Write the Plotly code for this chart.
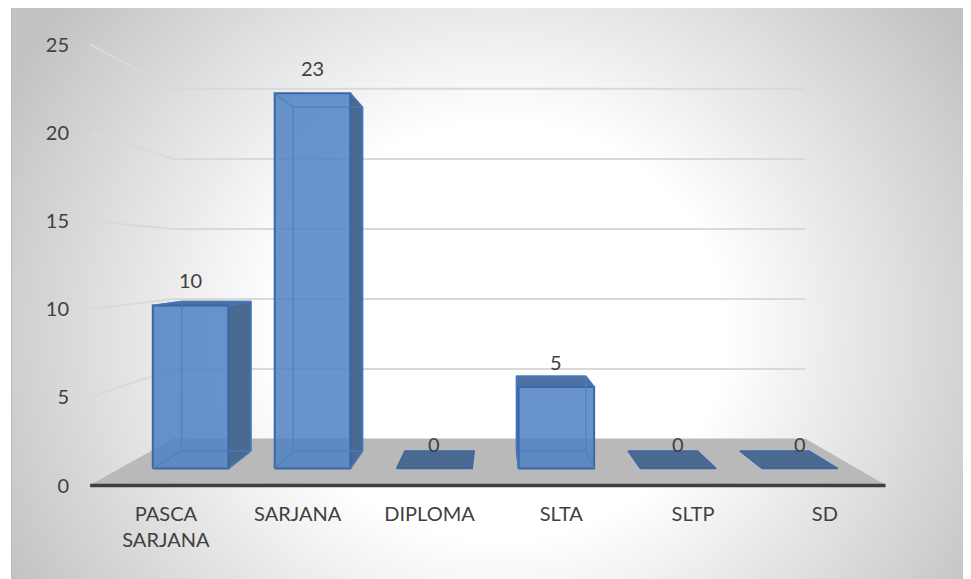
import base64
import plotly.graph_objects as go

# ---------------- data ----------------
CATEGORIES = ["PASCA<br>SARJANA", "SARJANA", "DIPLOMA", "SLTA", "SLTP", "SD"]
VALUES = [10, 23, 0, 5, 0, 0]
Y_TICKS = [0, 5, 10, 15, 20, 25]

# ---------------- layout / projection constants ----------------
W, H = 971, 579
OFFX, OFFY = 8, 8              # page offset of the figure (body margin)
VX, VY = 495.0, 259.8          # vanishing point (page px)
FLOOR_DEPTH = 225.7            # floor below vanishing point at front plane (px)
UNIT = 17.64                   # px per value unit at front plane
CAT0, CATSTEP = 165.9, 131.8   # category positions at front plane (page px)
S_FRONT, S_BAR_F, S_BAR_B, S_WALL = 1.0, 0.925, 0.847, 0.794
C_LEFT, C_RIGHT, HALF = -0.575, 5.46, 0.31
FONT = "Lato"
TXT = "#404040"


def proj(c, v, s):
    return (VX + (CAT0 + CATSTEP * c - VX) * s, VY + (FLOOR_DEPTH - UNIT * v) * s)


fig = go.Figure()


def poly(pts, fill, line_color, lw=1.5):
    xs = [p[0] for p in pts] + [pts[0][0]]
    ys = [p[1] for p in pts] + [pts[0][1]]
    fig.add_trace(go.Scatter(x=xs, y=ys, mode="lines", fill="toself", fillcolor=fill,
                             line=dict(color=line_color, width=lw), hoverinfo="skip",
                             showlegend=False))


def lines(segs, color, lw):
    xs, ys = [], []
    for a, b in segs:
        xs += [a[0], b[0], None]
        ys += [a[1], b[1], None]
    fig.add_trace(go.Scatter(x=xs, y=ys, mode="lines", line=dict(color=color, width=lw),
                             hoverinfo="skip", showlegend=False))


# floor
poly([proj(C_LEFT, 0, S_FRONT), proj(C_RIGHT, 0, S_FRONT),
      proj(C_RIGHT, 0, S_WALL), proj(C_LEFT, 0, S_WALL)], "#b9b9b9", "#b9b9b9", 1)

# gridlines on side wall and back wall
grid = []
for t in Y_TICKS[1:]:
    grid.append((proj(C_LEFT, t, S_FRONT), proj(C_LEFT, t, S_WALL)))
    grid.append((proj(C_LEFT, t, S_WALL), proj(C_RIGHT, t, S_WALL)))
lines(grid, "#d9d9d9", 2)

# front axis line
lines([(proj(C_LEFT, 0, S_FRONT), proj(C_RIGHT, 0, S_FRONT))], "#3f3f3f", 3.5)

SIDE = "#4a6a91"
TOP = "#4d71a1"
EDGE = "#3a67a5"
FRONT = "rgba(79,129,194,0.85)"
HIDDEN = "rgba(75,125,195,0.75)"

for i, v in enumerate(VALUES):
    P = {}
    for sd, c in (("l", i - HALF), ("r", i + HALF)):
        for lv, val in (("0", 0), ("v", v)):
            for dp, s in (("f", S_BAR_F), ("b", S_BAR_B)):
                P[sd + lv + dp] = proj(c, val, s)
    if P["r0b"][0] > P["r0f"][0] and v > 0:
        poly([P["r0f"], P["r0b"], P["rvb"], P["rvf"]], SIDE, EDGE)
    if P["l0b"][0] < P["l0f"][0] and v > 0:
        poly([P["l0f"], P["l0b"], P["lvb"], P["lvf"]], SIDE, EDGE)
    if P["lvb"][1] < P["lvf"][1]:
        poly([P["lvf"], P["rvf"], P["rvb"], P["lvb"]], TOP if v > 0 else SIDE, EDGE)
    if v > 0:
        poly([P["l0f"], P["r0f"], P["rvf"], P["lvf"]], FRONT, EDGE, 2)
        lines([(P["l0b"], P["r0b"]), (P["r0b"], P["rvb"]), (P["rvb"], P["lvb"]),
               (P["lvb"], P["l0b"]), (P["l0f"], P["l0b"]), (P["r0f"], P["r0b"]),
               (P["lvf"], P["lvb"]), (P["rvf"], P["rvb"])], HIDDEN, 1.5)
    lx, ly = proj(i, v, S_BAR_F)
    fig.add_annotation(x=lx, y=ly - 25, xref="x", yref="y", text=str(v), showarrow=False,
                       font=dict(family=FONT, size=20, color=TXT))

# axis ranges for labels, derived from projection at the front plane
y_px0 = proj(0, 0, S_FRONT)[1]
y_r0 = (y_px0 - (H + OFFY)) / UNIT
y_r1 = y_r0 + H / UNIT
x_r0 = (OFFX - CAT0) / CATSTEP
x_r1 = x_r0 + W / CATSTEP

# background with radial gradient
bx, by = 3, 0
bw, bh = W - bx, H - by
gcx, gcy, gr, ey = 489, 323, 560, 0.93
svg = (f'<svg xmlns="http://www.w3.org/2000/svg" width="{bw}" height="{bh}" viewBox="0 0 {bw} {bh}">'
       f'<defs><radialGradient id="g" gradientUnits="userSpaceOnUse" cx="{gcx}" cy="{gcy}" r="{gr}" '
       f'gradientTransform="translate({gcx} {gcy}) scale(1 {ey}) translate({-gcx} {-gcy})">'
       '<stop offset="0" stop-color="#ffffff"/><stop offset="0.4" stop-color="#ffffff"/>'
       '<stop offset="1" stop-color="#c2c2c2"/></radialGradient></defs>'
       f'<rect width="{bw}" height="{bh}" fill="url(#g)"/>'
       f'<path d="M0.5 {bh} V0.5" stroke="#bdbdbd" stroke-width="1" fill="none"/></svg>')
src = "data:image/svg+xml;base64," + base64.b64encode(svg.encode()).decode()

fig.update_layout(
    width=W, height=H, margin=dict(l=0, r=0, t=0, b=0),
    paper_bgcolor="white", plot_bgcolor="rgba(0,0,0,0)",
    showlegend=False, hovermode=False,
    images=[dict(source=src, xref="paper", yref="paper", x=bx / W, y=1 - by / H,
                 sizex=bw / W, sizey=bh / H, xanchor="left", yanchor="top",
                 sizing="stretch", layer="below")],
    xaxis=dict(range=[OFFX, OFFX + W], visible=False, fixedrange=True),
    yaxis=dict(range=[OFFY + H, OFFY], visible=False, fixedrange=True),
    xaxis2=dict(overlaying="x", anchor="free", position=1 - 492 / H, range=[x_r0, x_r1],
                tickvals=list(range(len(CATEGORIES))), ticktext=CATEGORIES,
                showgrid=False, zeroline=False, showline=False, ticks="",
                tickfont=dict(family=FONT, size=20, color=TXT), fixedrange=True),
    yaxis2=dict(overlaying="y", anchor="free", position=61 / W, range=[y_r0, y_r1],
                tickvals=Y_TICKS, showgrid=False, zeroline=False, showline=False, ticks="",
                tickfont=dict(family=FONT, size=20, color=TXT), fixedrange=True),
)
fig.add_trace(go.Scatter(x=[0], y=[0], xaxis="x2", yaxis="y2", mode="markers",
                         marker=dict(opacity=0), hoverinfo="skip", showlegend=False))

fig.write_html("out.html")
